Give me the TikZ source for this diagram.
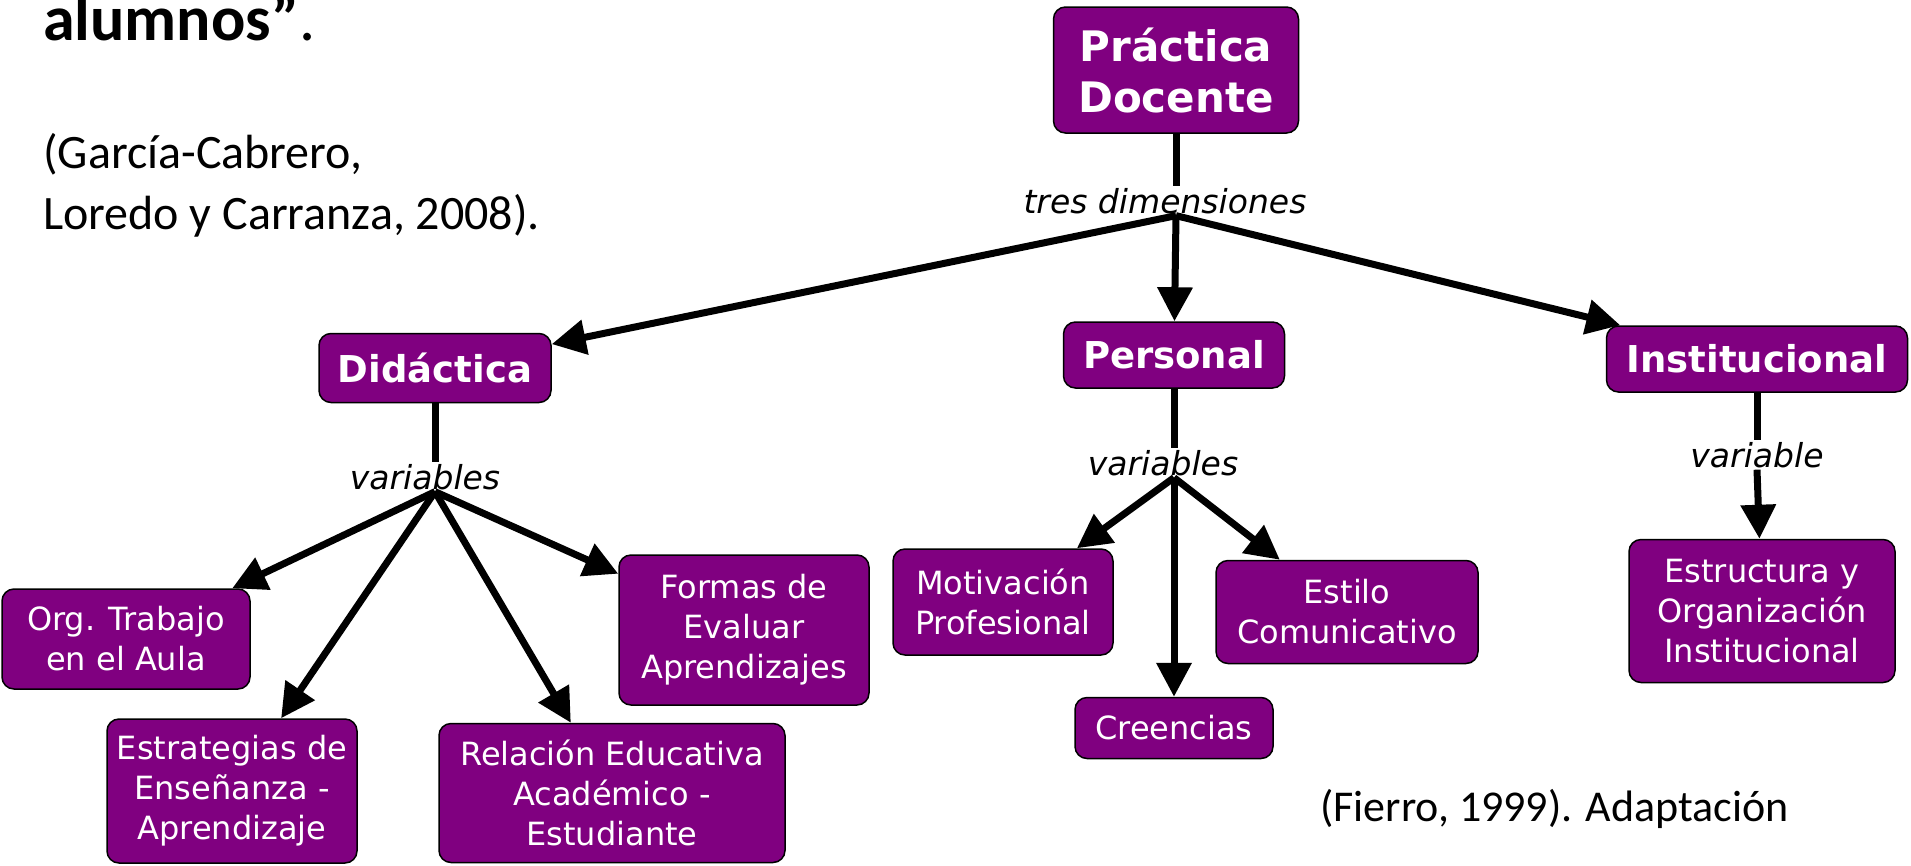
\documentclass[tikz,border=0pt]{standalone}
\usepackage{fontspec}
\setmainfont{DejaVu Sans}
\newfontfamily\calibri{Carlito}
\usetikzlibrary{arrows.meta}
\definecolor{conceptfill}{HTML}{800080}

\begin{document}
\begin{tikzpicture}[x=1pt,y=-1pt,
  every node/.style={inner sep=0pt},
  concept/.style={draw=black,line width=1.5pt,fill=conceptfill,rounded corners=12pt,
    text=white,align=center,font=\fontsize{32}{40}\selectfont},
  dimension/.style={concept,font=\bfseries\fontsize{37}{40}\selectfont},
  linkphrase/.style={inner sep=2pt,font=\itshape\fontsize{33}{38}\selectfont},
  source/.style={anchor=base west,font=\calibri\fontsize{48}{58}\selectfont},
  link/.style={line width=7pt},
  linkarrow/.style={link,-{Triangle[length=34pt,width=34pt]}},]

  \useasboundingbox (0,0) rectangle (1911,865);

  % source notes
  \node[source,font=\calibri\fontsize{64}{66}\selectfont] (quote) at (43,40) {\bfseries alumnos”\mdseries.};
  \node[source] (cite1) at (43,168) {(García-Cabrero,};
  \node[source] (cite2) at (43,229) {Loredo y Carranza, 2008).};
  \node[source,font=\calibri\fontsize{44}{52}\selectfont] (cite3) at (1320,821) {(Fierro, 1999). Adaptación};

  % root and its three dimensions
  \node[dimension,minimum width=245pt,minimum height=126pt,
    font=\bfseries\fontsize{42}{51}\selectfont] (practica) at (1176,70) {Práctica\\Docente};
  \node[linkphrase,anchor=base] (tres) at (1165,213) {tres dimensiones};
  \node[dimension,minimum width=232pt,minimum height=69pt] (didactica) at (435,368) {Didáctica};
  \node[dimension,minimum width=221pt,minimum height=66pt] (personal) at (1174,355) {Personal};
  \node[dimension,minimum width=301pt,minimum height=66pt] (institucional) at (1757,359) {Institucional};

  % didactica variables
  \node[linkphrase,anchor=base] (varsdid) at (425,489) {variables};
  \node[concept,minimum width=248pt,minimum height=100pt] (org) at (126,639) {Org. Trabajo\\en el Aula};
  \node[concept,minimum width=250pt,minimum height=144pt] (estrategias) at (232,791) {Estrategias de\\Enseñanza -\\Aprendizaje};
  \node[concept,minimum width=346pt,minimum height=139pt] (relacion) at (612,793) {Relación Educativa\\Académico -\\Estudiante};
  \node[concept,minimum width=250pt,minimum height=150pt] (formas) at (744,630) {Formas de\\Evaluar\\Aprendizajes};

  % personal variables
  \node[linkphrase,anchor=base] (varsper) at (1163,475) {variables};
  \node[concept,minimum width=220pt,minimum height=106pt] (motivacion) at (1003,602) {Motivación\\Profesional};
  \node[concept,minimum width=198pt,minimum height=61pt] (creencias) at (1174,728) {Creencias};
  \node[concept,minimum width=262pt,minimum height=103pt] (estilo) at (1347,612) {Estilo\\Comunicativo};

  % institucional variable
  \node[linkphrase,anchor=base] (varins) at (1757,467) {variable};
  \node[concept,minimum width=266pt,minimum height=143pt] (estructura) at (1762,611) {Estructura y\\Organización\\Institucional};

  % links
  \draw[link] (practica) -- (practica |- tres.north);
  \foreach \d in {didactica,personal,institucional}
    \draw[linkarrow] (practica |- tres.south) -- (\d);
  \draw[link] (didactica) -- (didactica |- varsdid.north);
  \foreach \c in {org,estrategias,relacion,formas}
    \draw[linkarrow] (didactica |- varsdid.south) -- (\c);
  \draw[link] (personal) -- (personal |- varsper.north);
  \foreach \c in {motivacion,creencias,estilo}
    \draw[linkarrow] (personal |- varsper.south) -- (\c);
  \draw[link] (institucional) -- (institucional |- varins.north);
  \draw[linkarrow] (institucional |- varins.south) -- (estructura);

\end{tikzpicture}
\end{document}
